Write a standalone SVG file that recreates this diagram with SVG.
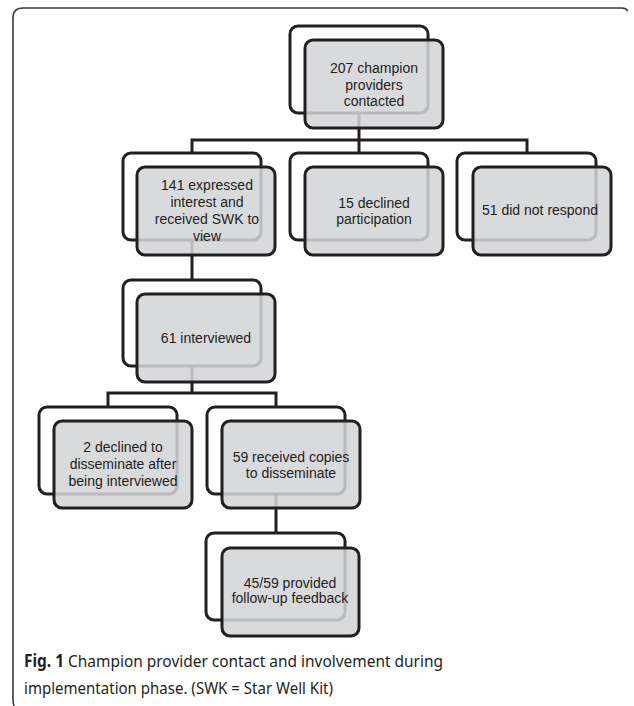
<svg xmlns="http://www.w3.org/2000/svg" width="634" height="706" viewBox="0 0 634 706">
<style>
.frame{fill:none;stroke:#3a3a3a;stroke-width:1.6}
.back{fill:#ffffff;stroke:#231f20;stroke-width:3}
.front{fill:#d3d4d6;fill-opacity:0.86;stroke:#231f20;stroke-width:3}
.conn{fill:none;stroke:#231f20;stroke-width:3}
.lbl{font-family:"Liberation Sans",Arial,sans-serif;font-size:14px;fill:#231f20;text-anchor:middle}
.cap{font-family:"Noto Sans","Open Sans",sans-serif;font-size:17px;fill:#231f20}
</style>
<rect width="634" height="706" fill="#ffffff"/>
<path class="frame" d="M14 706 Q13 703 13 699 L13 18 Q13 8 23 8 L622 8 Q626 8 628 11"/>
<g id="connectors">
<path class="conn" d="M359 113 V140 M192 153 V140 H527 V153 M359 140 V153"/>
<path class="conn" d="M192 240 V280"/>
<path class="conn" d="M192 365 V393 M108 407 V393 H276 V407"/>
<path class="conn" d="M276 494 V533"/>
</g>
<g id="n207">
<rect class="back" x="290" y="26" width="138" height="87" rx="8"/>
<rect class="front" x="305" y="40" width="138" height="88" rx="8"/>
<text class="lbl" x="374" y="73">207 champion</text>
<text class="lbl" x="374" y="90">providers</text>
<text class="lbl" x="374" y="106">contacted</text>
</g>
<g id="n141">
<rect class="back" x="123" y="153" width="138" height="87" rx="8"/>
<rect class="front" x="137" y="167" width="138" height="88" rx="8"/>
<text class="lbl" x="207" y="190">141 expressed</text>
<text class="lbl" x="207" y="207">interest and</text>
<text class="lbl" x="207" y="224">received SWK to</text>
<text class="lbl" x="207" y="241">view</text>
</g>
<g id="n15">
<rect class="back" x="290" y="153" width="138" height="87" rx="8"/>
<rect class="front" x="305" y="167" width="138" height="88" rx="8"/>
<text class="lbl" x="374" y="208">15 declined</text>
<text class="lbl" x="374" y="224">participation</text>
</g>
<g id="n51">
<rect class="back" x="457" y="153" width="139" height="87" rx="8"/>
<rect class="front" x="473" y="167" width="138" height="88" rx="8"/>
<text class="lbl" x="540" y="215">51 did not respond</text>
</g>
<g id="n61">
<rect class="back" x="123" y="280" width="138" height="86" rx="8"/>
<rect class="front" x="137" y="294" width="138" height="88" rx="8"/>
<text class="lbl" x="206" y="343">61 interviewed</text>
</g>
<g id="n2">
<rect class="back" x="39" y="407" width="138" height="87" rx="8"/>
<rect class="front" x="54" y="421" width="138" height="87" rx="8"/>
<text class="lbl" x="123" y="452">2 declined to</text>
<text class="lbl" x="123" y="469">disseminate after</text>
<text class="lbl" x="123" y="486">being interviewed</text>
</g>
<g id="n59">
<rect class="back" x="207" y="407" width="138" height="87" rx="8"/>
<rect class="front" x="222" y="421" width="138" height="87" rx="8"/>
<text class="lbl" x="291" y="462">59 received copies</text>
<text class="lbl" x="291" y="478">to disseminate</text>
</g>
<g id="n45">
<rect class="back" x="206" y="533" width="139" height="87" rx="8"/>
<rect class="front" x="222" y="548" width="137" height="88" rx="8"/>
<text class="lbl" x="290" y="588">45/59 provided</text>
<text class="lbl" x="290" y="603">follow-up feedback</text>
</g>
<g id="caption">
<text class="cap" x="24" y="667" textLength="419" lengthAdjust="spacingAndGlyphs"><tspan font-weight="bold">Fig. 1</tspan> Champion provider contact and involvement during</text>
<text class="cap" x="24" y="694" textLength="309" lengthAdjust="spacingAndGlyphs">implementation phase. (SWK = Star Well Kit)</text>
</g>
</svg>
